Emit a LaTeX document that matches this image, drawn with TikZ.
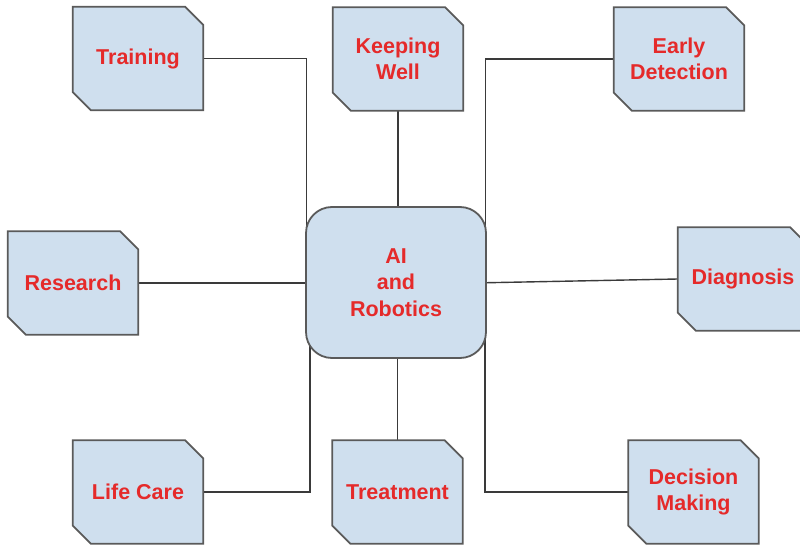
\documentclass[tikz,border=0pt]{standalone}
\usepackage{fontspec}
\setmainfont{Liberation Sans}
\usetikzlibrary{backgrounds}
\pgfdeclarelayer{lines}
\pgfsetlayers{lines,background,main}
\definecolor{boxfill}{HTML}{CFDFEE}
\definecolor{boxedge}{HTML}{5A5A5A}
\definecolor{txtred}{HTML}{E52A2A}
\definecolor{linecol}{HTML}{3A3A3A}
\tikzset{
  lbl/.style={text=txtred, font=\bfseries\fontsize{21.5}{26.5}\selectfont, align=center,
    minimum width=130pt, minimum height=103pt, inner sep=0pt},
  cutedge/.style={fill=boxfill, draw=boxedge, line width=1.8pt, line join=miter},
  hub/.style={lbl, draw=boxedge, fill=boxfill, line width=1.8pt, rounded corners=26pt,
    minimum width=180pt, minimum height=151pt},
  conn/.style={draw=linecol, line width=1.4pt}
}
\newcommand\cutshape[1]{%
  \begin{pgfonlayer}{background}
  \draw[cutedge] (#1.north west) -- ([xshift=-18pt]#1.north east) -- ([yshift=-18pt]#1.north east)
    -- (#1.south east) -- ([xshift=18pt]#1.south west) -- ([yshift=18pt]#1.south west) -- cycle;
  \end{pgfonlayer}}
\begin{document}
\begin{tikzpicture}[x=1pt,y=-1pt]
\useasboundingbox (0,0) rectangle (800,545);
\clip (0,0) rectangle (800,545);
\node[hub] (ai) at (396,282.5) {AI\\and\\Robotics};
\node[lbl] (train) at (138,58.5) {Training};
\node[lbl] (keep) at (398,59) {Keeping\\Well};
\node[lbl] (early) at (679,59) {Early\\Detection};
\node[lbl] (res) at (73,283) {Research};
\node[lbl] (diag) at (743,279) {Diagnosis};
\node[lbl] (life) at (138,492) {Life Care};
\node[lbl] (treat) at (397.5,492) {Treatment};
\node[lbl] (dec) at (693.5,492) {Decision\\Making};
\foreach \n in {train,keep,early,res,diag,life,treat,dec}{\cutshape{\n}}
\begin{pgfonlayer}{lines}
\draw[conn] (train.east) -| ([xshift=1.5pt]ai.west);
\draw[conn] (keep.south) -- (keep.south |- ai.center);
\draw[conn] (early.west) -| ([xshift=-1.5pt]ai.east);
\draw[conn] (res.east) -- (res.east -| ai.center);
\draw[conn] (diag.west) -- ([yshift=-2pt]ai.center);
\draw[conn] (life.east) -| ([xshift=5pt]ai.west);
\draw[conn] (treat.north) -- (treat.north |- ai.center);
\draw[conn] (dec.west) -| ([xshift=-2pt]ai.east);
\end{pgfonlayer}
\end{tikzpicture}
\end{document}
